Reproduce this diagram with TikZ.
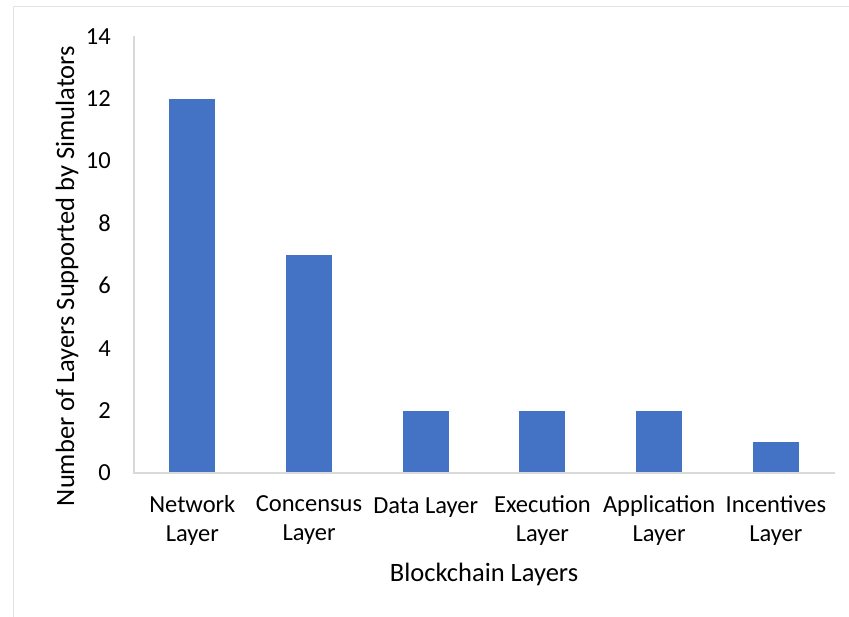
\documentclass[tikz,border=0pt]{standalone}
\usepackage{fontspec}
\setmainfont{Carlito}
\usepackage{xcolor}
\usetikzlibrary{positioning}
\definecolor{barblue}{HTML}{4472C4}
\definecolor{axisgray}{HTML}{D9D9D9}
\definecolor{framegray}{HTML}{E3E3E3}

\begin{document}
\begin{tikzpicture}[
      x = 1pt, y = -1pt,
      bar/.style={
        fill = barblue,
        draw = none,
      },
      axisline/.style={
        draw = axisgray,
        line width = 1.6pt,
      },
      ticklbl/.style={
        anchor = east,
        inner sep = 0pt,
        font = \fontsize{24.5}{29}\selectfont,
      },
      catlbl/.style={
        anchor = north,
        inner sep = 0pt,
        align = center,
        font = \fontsize{24.5}{29}\selectfont,
      },
      axtitle/.style={
        inner sep = 0pt,
        font = \fontsize{26.5}{32}\selectfont,
      },
    ]
    \useasboundingbox (0,0) rectangle (849,616);
    \fill[white] (0,0) rectangle (849,616);
    % chart frame
    \draw[framegray, line width = 1.5pt] (13.5,640) |- (870,6.5);

    % axes
    \coordinate (origin) at (134,473);
    \coordinate (ytop) at (134,36);
    \coordinate (xend) at (835,473);

    % bars and category labels
    \foreach \v/\lbl/\dy [count=\i] in {12/{Network\\Layer}/0, 7/{Concensus\\Layer}/0,
        2/{Data Layer}/3, 2/{Execution\\Layer}/0, 2/{Application\\Layer}/0,
        1/{Incentives\\Layer}/0} {
      \pgfmathsetmacro{\cx}{134 + 116.7*(\i - 0.5)}
      \fill[bar] ({\cx - 23},473) rectangle ({\cx + 23},{473 - 31.2*\v});
      \node[catlbl] (cat\i) at (\cx,{495 + \dy}) {\lbl};
    }

    \draw[axisline] (ytop) -- (origin) -- (xend);

    % value ticks
    \foreach \t in {0,2,...,14}
      \node[ticklbl] (tick\t) at (111,{473 - 31.2*\t}) {\t};

    \node[axtitle, rotate = 90] (ytitle) at (67,276)
      {Number of Layers Supported by Simulators};
    \node[axtitle] (xtitle) at (484,574) {Blockchain Layers};
  \end{tikzpicture}
\end{document}
